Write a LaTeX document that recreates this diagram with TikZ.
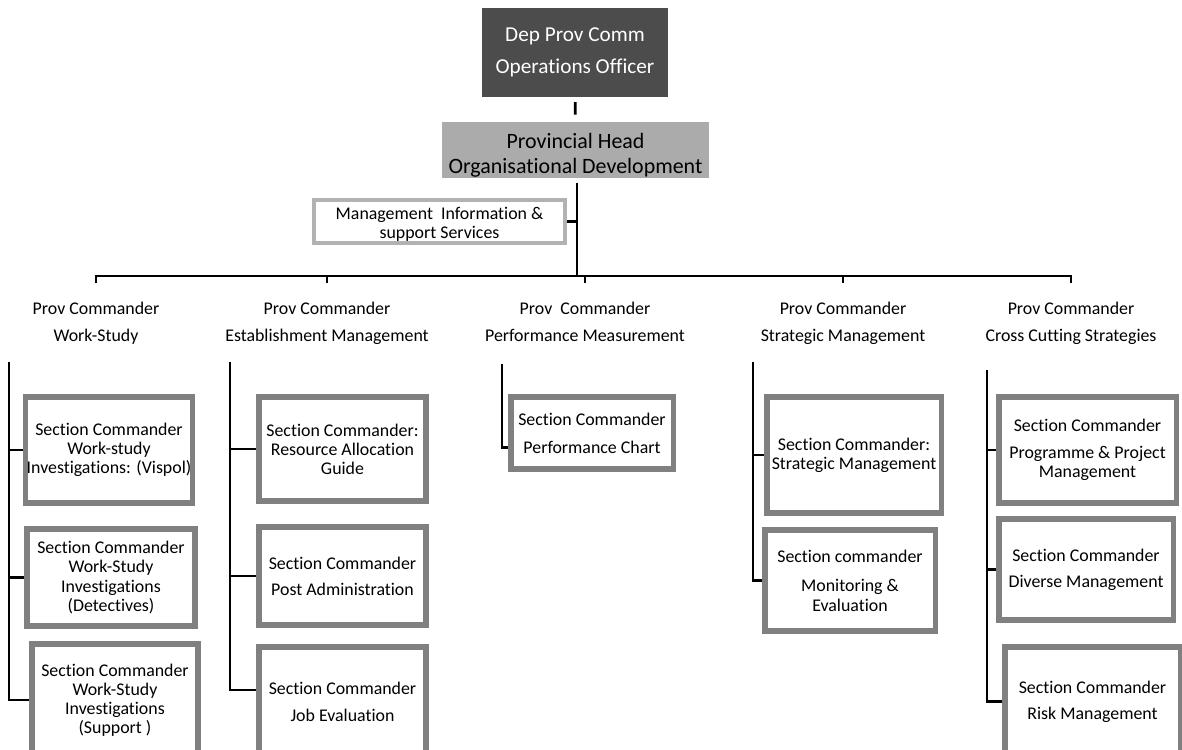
\documentclass[tikz,border=0pt]{standalone}
\usepackage{fontspec}
\setmainfont{Carlito}[Ligatures=NoCommon]

\begin{document}
\begin{tikzpicture}[x=0.025cm,y=-0.025cm,
    conn/.style={line width=2pt,black},
    secbox/.style={draw=black!50,line width=3.6pt,fill=white,align=center,inner sep=1pt,font=\fontsize{12.7}{13.6}\selectfont},
    head/.style={align=center,anchor=north,inner sep=0pt,font=\fontsize{12.7}{19.2}\selectfont}]
    \path[use as bounding box,clip] (0,0) rectangle (1182,749);

    \node[fill=black!70,text=white,align=center,minimum width=4.65cm,minimum height=2.225cm,font=\fontsize{15.1}{22.8}\selectfont] (dpc) at (575,52.5) {Dep Prov Comm\\Operations Officer};
    \node[fill=black!33,align=center,inner sep=0pt,minimum width=6.675cm,minimum height=1.4cm,font=\fontsize{15.6}{17.8}\selectfont] (phead) at (575.5,150) {\rule{0pt}{18pt}Provincial Head\\Organisational Development};
    \node[draw=black!30,line width=3pt,align=center,minimum width=6.275cm,minimum height=0.975cm,inner sep=1pt,font=\fontsize{12.7}{13.5}\selectfont] (mis) at (439.5,221.5) {\rule{0pt}{13pt}Management\ \ Information \&\\support Services};
    \coordinate (bus) at (577,276);

    \node[head] (c1) at (96,302) {Prov Commander\\Work-Study};
    \node[head] (c2) at (327,302) {Prov Commander\\Establishment Management};
    \node[head] (c3) at (585,302) {Prov\ \ Commander\\Performance Measurement};
    \node[head] (c4) at (843,302) {Prov Commander\\Strategic Management};
    \node[head] (c5) at (1071,302) {Prov Commander\\Cross Cutting Strategies};

    \node[secbox,minimum width=4.1cm,minimum height=2.65cm] (s11) at (109,450) {Section Commander\\Work-study\\Investigations: (Vispol)};
    \node[secbox,minimum width=4.2cm,minimum height=2.425cm] (s12) at (111,577.5) {Section Commander\\Work-Study\\Investigations\\(Detectives)};
    \node[secbox,minimum width=4.15cm,minimum height=2.8cm] (s13) at (115,700) {Section Commander\\Work-Study\\Investigations\\(Support )};

    \node[secbox,minimum width=4.175cm,minimum height=2.6cm] (s21) at (342.5,449) {Section Commander:\\Resource Allocation\\Guide};
    \node[secbox,minimum width=4.175cm,minimum height=2.45cm] (s22) at (342.5,576) {Section Commander\\[5pt]Post Administration};
    \node[secbox,minimum width=4.175cm,minimum height=2.725cm] (s23) at (342.5,701.5) {Section Commander\\[5.7pt]Job Evaluation};

    \node[secbox,minimum width=4.05cm,minimum height=1.8cm] (s31) at (592,433) {Section Commander\\[6.4pt]Performance Chart};

    \node[secbox,minimum width=4.35cm,minimum height=2.9cm] (s41) at (854,455) {Section Commander:\\Strategic Management};
    \node[secbox,minimum width=4.25cm,minimum height=2.525cm] (s42) at (850,580.5) {Section commander\\[7.5pt]Monitoring \&\\Evaluation};

    \node[secbox,minimum width=4.425cm,minimum height=2.65cm] (s51) at (1087.5,450) {Section Commander\\[5.7pt]Programme \& Project\\Management};
    \node[secbox,minimum width=4.35cm,minimum height=2.525cm] (s52) at (1086,569.5) {Section Commander\\[5pt]Diverse Management};
    \node[secbox,minimum width=4.375cm,minimum height=2.725cm] (s53) at (1092.5,701.5) {Section Commander\\[5pt]Risk Management};

    \draw[conn,shorten <=3.5pt,shorten >=5pt] (dpc) -- (phead);
    \draw[conn,shorten <=3.5pt] (phead.south -| bus) -- (bus);
    \draw[conn] (mis.east) -- (mis.east -| bus);
    \draw[conn] (c1 |- bus) ++(0,7) |- (c5 |- bus) -- ++(0,7);
    \foreach \c in {c2,c3,c4}
        \draw[conn] (\c |- bus) -- ++(0,7);

    \coordinate (t1) at (9,362);
    \coordinate (t2) at (230,362);
    \coordinate (t3) at (502,364);
    \coordinate (t4) at (753,362);
    \coordinate (t5) at (987,370);

    \draw[conn] (t1) |- (s13.west);
    \foreach \b in {s11,s12}
        \draw[conn] (t1 |- \b.west) -- (\b.west);
    \draw[conn] (t2) |- ([yshift=0.29cm]s23.west);
    \foreach \b in {s21,s22}
        \draw[conn] (t2 |- \b.west) -- (\b.west);
    \draw[conn] (t3) |- ([yshift=-0.37cm]s31.west);
    \draw[conn] (t4) |- (s42.west);
    \draw[conn] (t4 |- s41.west) -- (s41.west);
    \draw[conn] (t5) |- (s53.west);
    \foreach \b in {s51,s52}
        \draw[conn] (t5 |- \b.west) -- (\b.west);
\end{tikzpicture}
\end{document}
